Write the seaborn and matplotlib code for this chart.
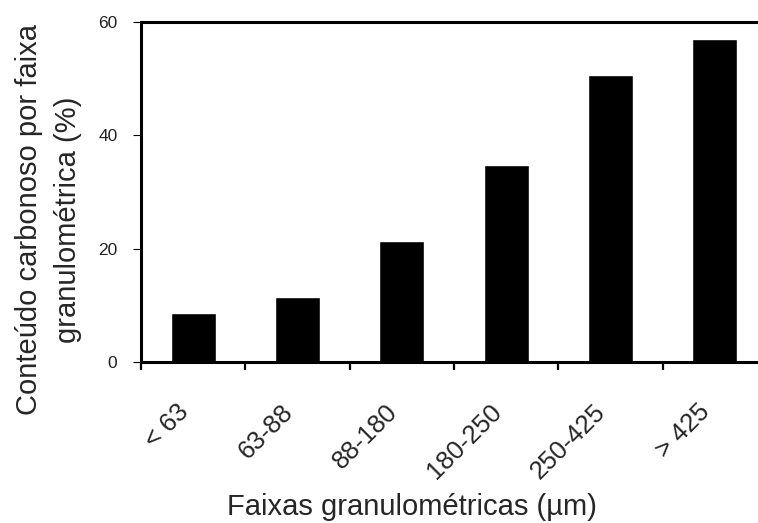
import matplotlib
matplotlib.use("Agg")
import matplotlib.pyplot as plt
import seaborn as sns
import numpy as np
import pandas as pd

# Particle-size classes and carbonaceous content (%)
faixas = ["< 63", "63-88", "88-180", "180-250", "250-425", "> 425"]
conteudo = [8.6, 11.5, 21.3, 34.7, 50.6, 57.0]
yticks = [0, 20, 40, 60]

sns.set_theme(style="white")
plt.rcParams["font.family"] = ["Liberation Sans", "DejaVu Sans"]

df = pd.DataFrame({"faixa": faixas, "conteudo": conteudo})

fig = plt.figure(figsize=(7.58, 5.23), dpi=100)
ax = fig.add_axes([141 / 758, (523 - 362) / 523, 626 / 758, 340 / 523])

sns.barplot(data=df, x="faixa", y="conteudo", color="black", saturation=1,
            width=0.43, ax=ax)

ax.set_xlim(-0.5, len(faixas) - 0.5)
ax.set_ylim(0, 60)

# spines: left, top, bottom
for side in ["left", "top", "bottom"]:
    ax.spines[side].set_visible(True)
    ax.spines[side].set_color("black")
    ax.spines[side].set_linewidth(2.2)
ax.spines["right"].set_visible(False)

# y ticks
ax.set_yticks(yticks)
ax.set_yticklabels([str(v) for v in yticks], fontsize=12.5, color="#222222")
ax.tick_params(axis="y", which="major", left=True, length=6, width=0.8,
               direction="out", pad=11, color="black")

# x: labels at category centres, tick marks at category boundaries
ax.set_xticks(np.arange(len(faixas)))
ax.set_xticklabels(faixas, fontsize=18.5, rotation=45, ha="right")
ax.set_xticks(np.arange(len(faixas) + 1) - 0.5, minor=True)
ax.tick_params(axis="x", which="major", bottom=False, length=0, pad=27)
ax.tick_params(axis="x", which="minor", bottom=True, length=6, width=1.6,
               direction="out", color="black")

ax.set_xlabel("Faixas granulométricas (µm)", fontsize=21)
ax.set_ylabel("Conteúdo carbonoso por faixa\ngranulométrica (%)", fontsize=21,
              linespacing=1.5, multialignment="center")
ax.xaxis.set_label_coords(0.433, -0.385)
ax.yaxis.set_label_coords(-0.094, 0.418)

fig.savefig("out.png", dpi=100)
